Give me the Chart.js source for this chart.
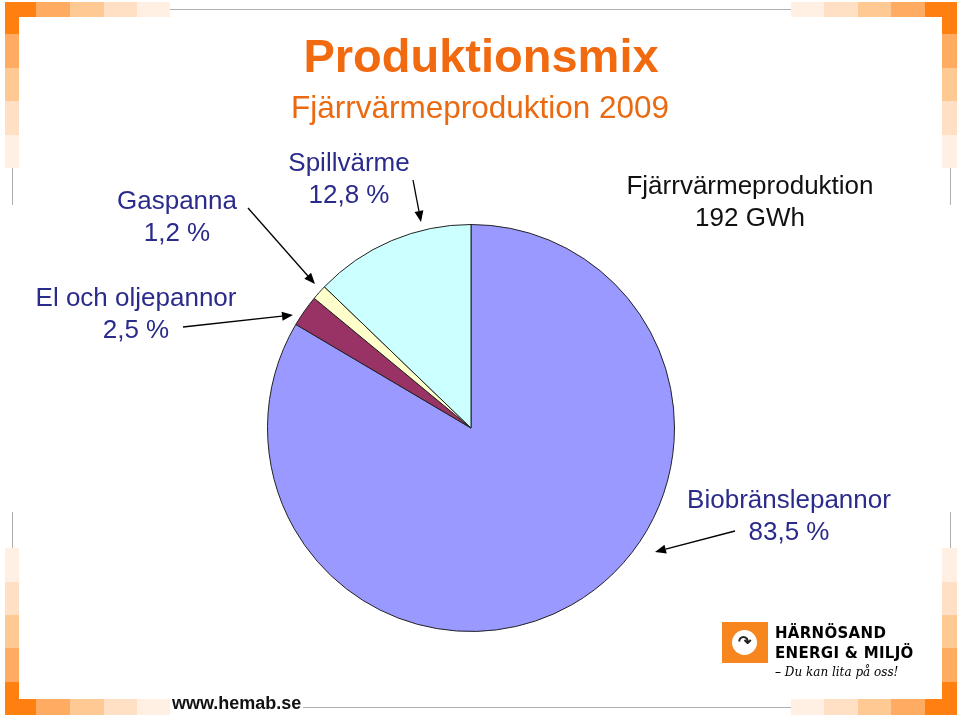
<!DOCTYPE html>
<html>
<head>
<meta charset="utf-8">
<script src="https://cdn.jsdelivr.net/npm/chart.js@4/dist/chart.umd.min.js"></script>
<style>
  body { margin: 0; background: #fff; }
  #slide { position: relative; width: 960px; height: 716px; overflow: hidden; font-family: "Liberation Sans", Arial, sans-serif; }
  #pie { position: absolute; left: 0; top: 0; }
  .txt { position: absolute; text-align: center; white-space: nowrap; transform: translateX(-50%); }
  .lbl { font-size: 26px; line-height: 32px; color: #2b2b8c; }
  .sq { position: absolute; }
  .gl { position: absolute; background: #b0b0b0; }
</style>
</head>
<body>
<div id="slide">
  <canvas id="pie" width="960" height="716"></canvas>

  <div class="txt" style="left:481px; top:32px; font-size:47px; line-height:47px; font-weight:bold; color:#f26a10;">Produktionsmix</div>
  <div class="txt" style="left:480px; top:89px; font-size:31.5px; line-height:36px; color:#ea6a12;">Fjärrvärmeproduktion 2009</div>

  <div class="txt lbl" style="left:349px; top:146px;">Spillvärme<br>12,8 %</div>
  <div class="txt lbl" style="left:177px; top:184px;">Gaspanna<br>1,2 %</div>
  <div class="txt lbl" style="left:136px; top:281px;">El och oljepannor<br>2,5 %</div>
  <div class="txt lbl" style="left:750px; top:169px; color:#111;">Fjärrvärmeproduktion<br>192 GWh</div>
  <div class="txt lbl" style="left:789px; top:483px;">Biobränslepannor<br>83,5 %</div>

  <div style="position:absolute; left:172px; top:693px; font-size:18px; line-height:20px; font-weight:bold; color:#111;">www.hemab.se</div>

  <!-- logo -->
  <div style="position:absolute; left:722px; top:622px; width:46px; height:41px; background:#f7861e;">
    <div style="position:absolute; left:10px; top:8px; width:25px; height:25px; border-radius:50%; background:#fff;"></div>
    <div style="position:absolute; left:16px; top:12px; font-size:16px; line-height:16px; font-weight:bold; color:#222;">&#8631;</div>
  </div>
  <div style="position:absolute; left:775px; top:623px; font-family:'DejaVu Sans', sans-serif; font-weight:bold; font-size:15px; line-height:20px; color:#000; letter-spacing:0.3px;">HÄRNÖSAND<br>ENERGI &amp; MILJÖ</div>
  <div style="position:absolute; left:775px; top:665px; font-family:'DejaVu Serif', serif; font-style:italic; font-size:12px; line-height:14px; color:#000;">– Du kan lita på oss!</div>

  <div id="frame"></div>
</div>

<script>
// pie data
const categories = ['Biobränslepannor', 'El och oljepannor', 'Gaspanna', 'Spillvärme'];
const shares = [83.5, 2.5, 1.2, 12.8];
const sliceColors = ['#9999ff', '#993366', '#ffffcc', '#ccffff'];

// arrows: [fromX, fromY, toX, toY]
const arrows = [
    [413, 180, 421, 222],
    [248, 208, 315, 284],
    [183, 327, 293, 315],
    [735, 531, 655, 552]
];

// orange frame squares, lightest last
const frameShades = ['#ff7f10', '#ffab62', '#ffc994', '#ffe0c4', '#fff0e3'];

function buildFrame() {
    const frame = document.getElementById('frame');
    const add = (x, y, w, h, c, cls) => {
        const d = document.createElement('div');
        d.className = cls || 'sq';
        d.style.cssText = `left:${x}px;top:${y}px;width:${w}px;height:${h}px;background:${c};`;
        frame.appendChild(d);
    };
    const steps = [36, 70, 104, 137, 170];
    const rsteps = [925, 891, 858, 824, 791];
    const vsteps = [34, 68, 101, 135, 168];
    const bsteps = [682, 648, 615, 582, 548];
    // corners
    add(5, 2, 31, 15, frameShades[0]); add(5, 2, 14, 32, frameShades[0]);
    add(925, 2, 32, 15, frameShades[0]); add(942, 2, 15, 32, frameShades[0]);
    add(5, 699, 31, 16, frameShades[0]); add(5, 682, 14, 33, frameShades[0]);
    add(925, 699, 32, 16, frameShades[0]); add(942, 682, 15, 33, frameShades[0]);
    for (let i = 1; i < 5; i++) {
        add(steps[i - 1], 2, steps[i] - steps[i - 1], 15, frameShades[i]);
        add(steps[i - 1], 699, steps[i] - steps[i - 1], 16, frameShades[i]);
        add(rsteps[i], 2, rsteps[i - 1] - rsteps[i], 15, frameShades[i]);
        add(rsteps[i], 699, rsteps[i - 1] - rsteps[i], 16, frameShades[i]);
        add(5, vsteps[i - 1], 14, vsteps[i] - vsteps[i - 1], frameShades[i]);
        add(942, vsteps[i - 1], 15, vsteps[i] - vsteps[i - 1], frameShades[i]);
        add(5, bsteps[i], 14, bsteps[i - 1] - bsteps[i], frameShades[i]);
        add(942, bsteps[i], 15, bsteps[i - 1] - bsteps[i], frameShades[i]);
    }
    // thin grey rules
    add(170, 9, 621, 1, '#b0b0b0', 'gl');
    add(303, 707, 488, 1, '#b0b0b0', 'gl');
    add(12, 168, 1, 37, '#b0b0b0', 'gl');
    add(12, 512, 1, 36, '#b0b0b0', 'gl');
    add(950, 168, 1, 37, '#b0b0b0', 'gl');
    add(950, 512, 1, 36, '#b0b0b0', 'gl');
}
buildFrame();

const arrowPlugin = {
    id: 'arrows',
    afterDraw(chart) {
        const ctx = chart.ctx;
        ctx.save();
        ctx.strokeStyle = '#000';
        ctx.fillStyle = '#000';
        ctx.lineWidth = 1.3;
        arrows.forEach(([x1, y1, x2, y2]) => {
            const a = Math.atan2(y2 - y1, x2 - x1);
            const hx = x2 - 11 * Math.cos(a), hy = y2 - 11 * Math.sin(a);
            ctx.beginPath();
            ctx.moveTo(x1, y1);
            ctx.lineTo(hx, hy);
            ctx.stroke();
            ctx.beginPath();
            ctx.moveTo(x2, y2);
            ctx.lineTo(x2 - 11 * Math.cos(a) + 4.5 * Math.sin(a), y2 - 11 * Math.sin(a) - 4.5 * Math.cos(a));
            ctx.lineTo(x2 - 11 * Math.cos(a) - 4.5 * Math.sin(a), y2 - 11 * Math.sin(a) + 4.5 * Math.cos(a));
            ctx.closePath();
            ctx.fill();
        });
        ctx.restore();
    }
};

new Chart(document.getElementById('pie').getContext('2d'), {
    type: 'pie',
    data: {
        labels: categories,
        datasets: [{
            data: shares,
            backgroundColor: sliceColors,
            borderColor: '#222',
            borderWidth: 1
        }]
    },
    options: {
        responsive: false,
        animation: false,
        layout: { padding: { left: 267, right: 285, top: 224, bottom: 84 } },
        plugins: {
            legend: { display: false },
            tooltip: { enabled: false }
        }
    },
    plugins: [arrowPlugin]
});
</script>
</body>
</html>
